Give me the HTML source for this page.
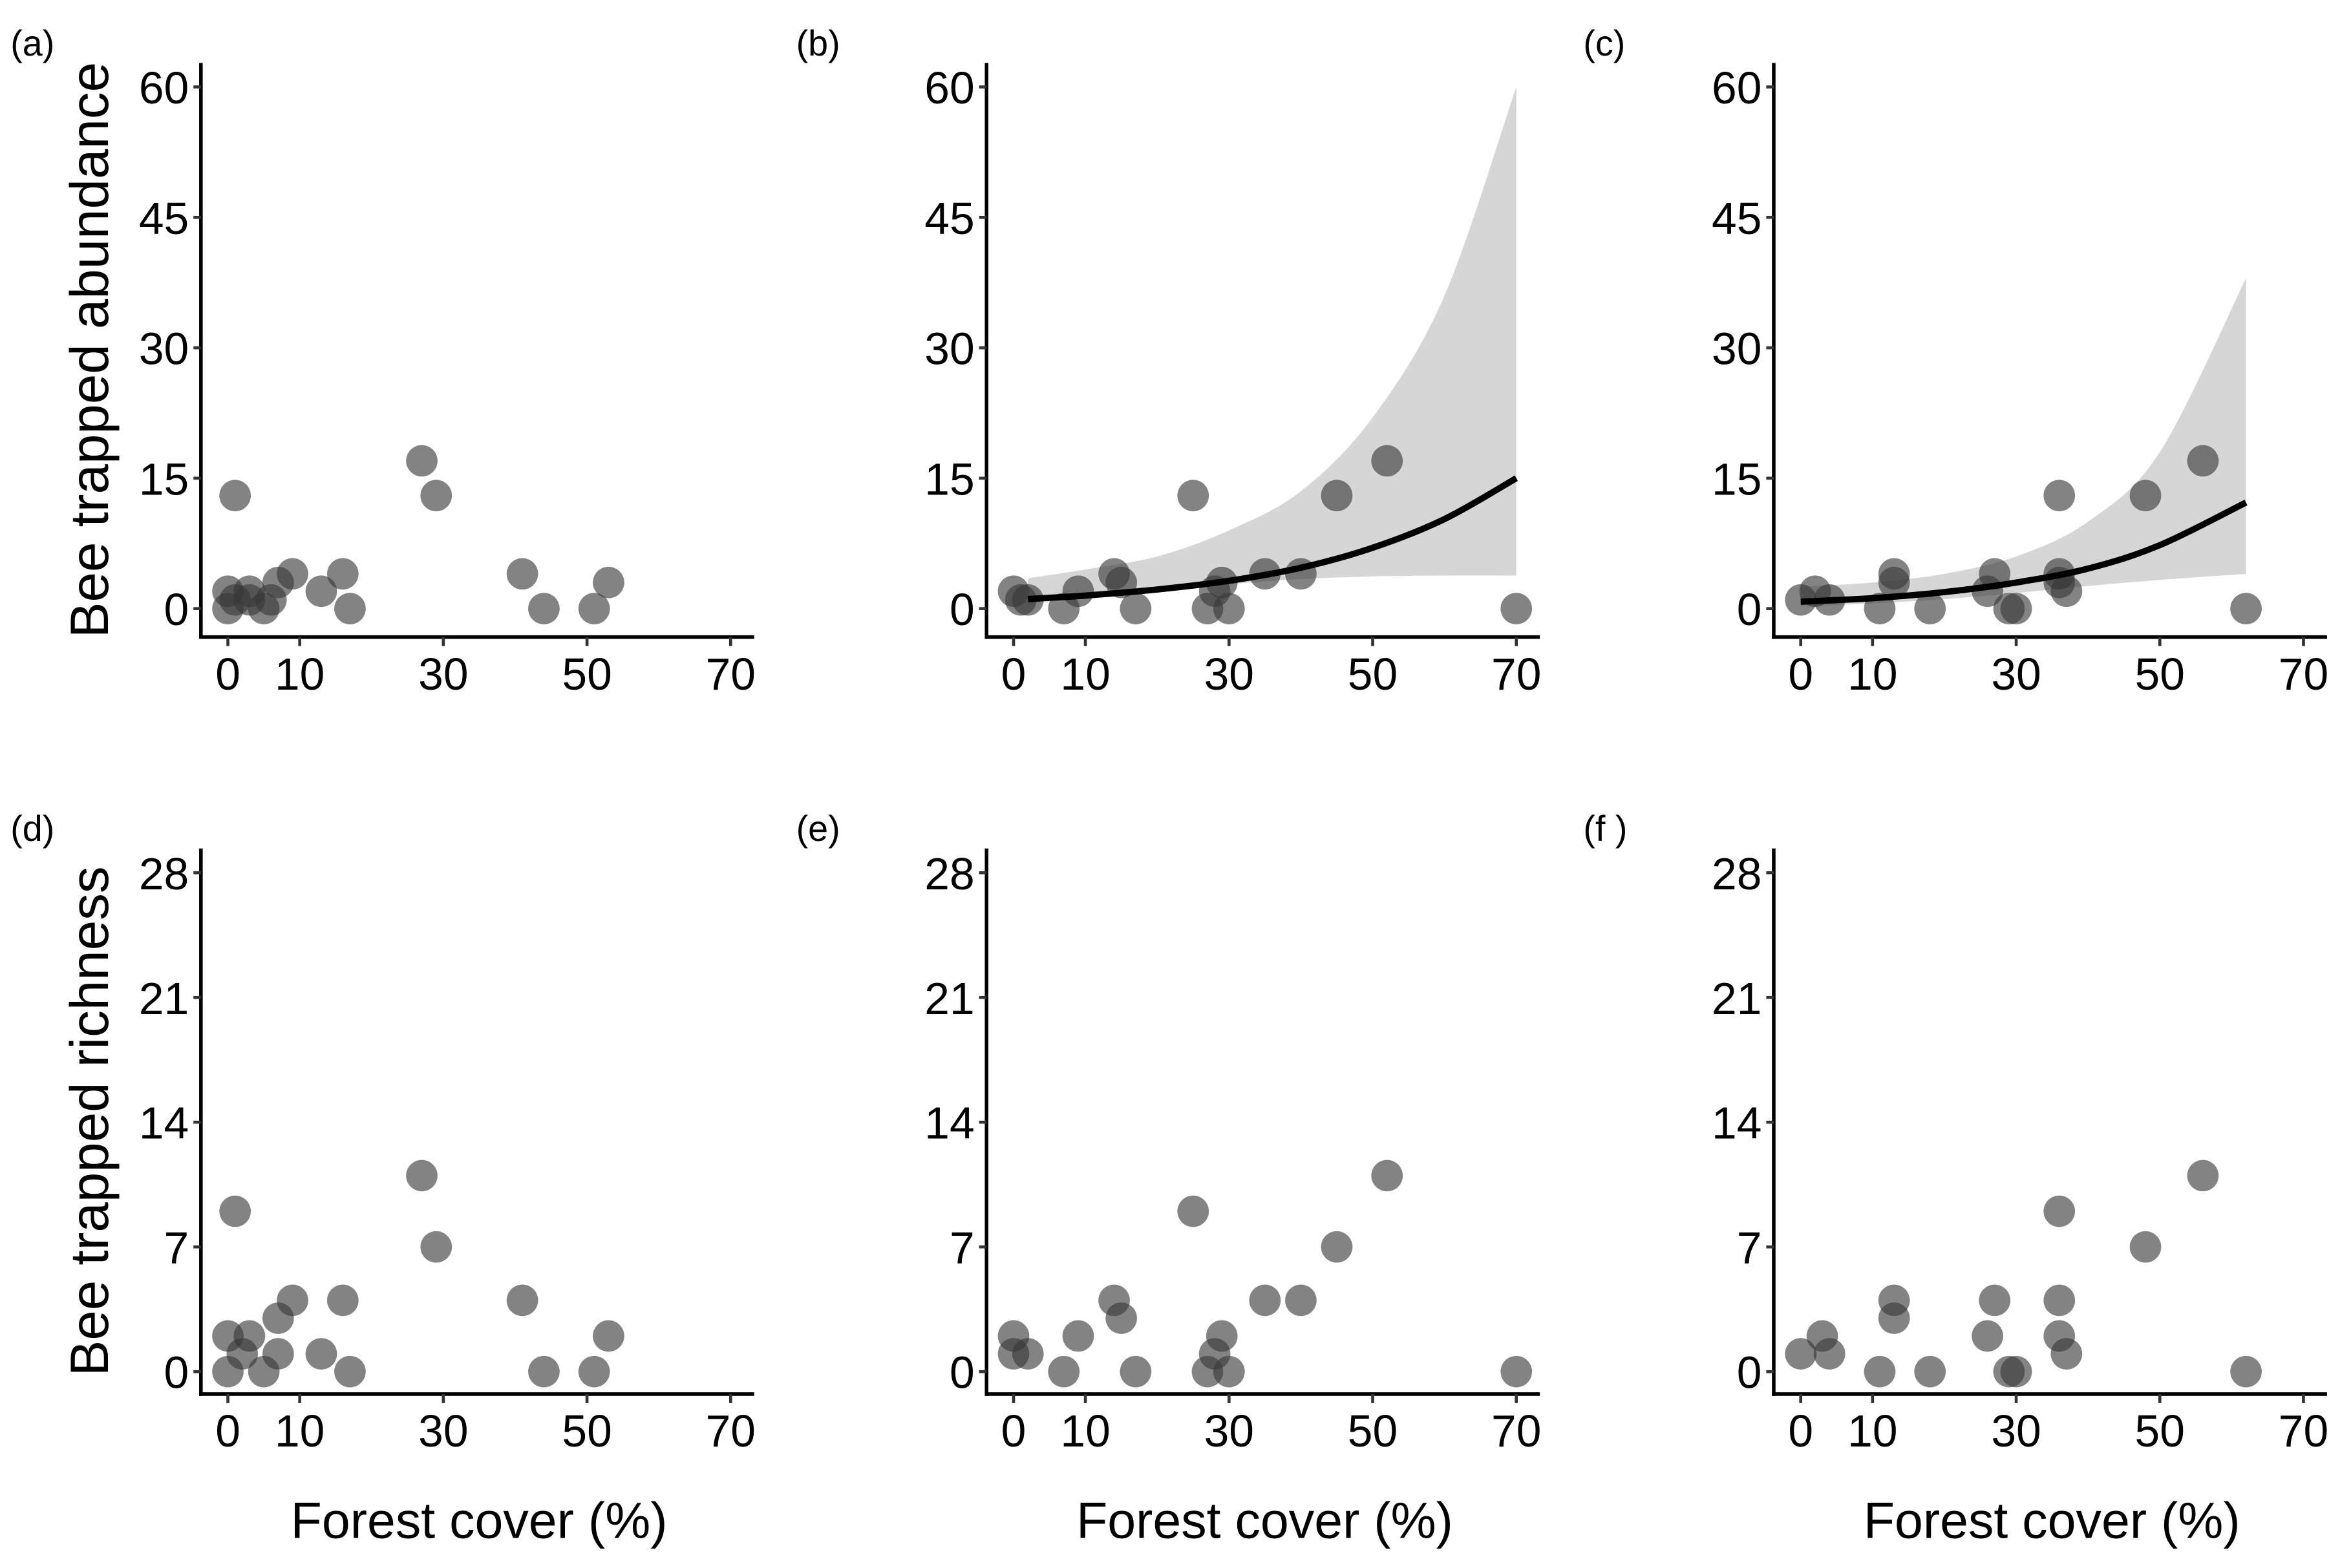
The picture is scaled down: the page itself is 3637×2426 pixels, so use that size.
<!DOCTYPE html>
<html><head><meta charset="utf-8"><style>
html,body{margin:0;padding:0;background:#fff;}
svg{display:block;font-family:"Liberation Sans",Arial,sans-serif;}
</style></head><body>
<svg id="fig" width="3637" height="2426" viewBox="0 0 1568 1046" preserveAspectRatio="none" xmlns="http://www.w3.org/2000/svg"></svg>
<script>
// ---- data ----
const absX_a = [0,0,1,1,3,3,5,6,7,9,13,16,17,27,29,41,44,51,53];
const absY_a = [2,0,13,1,1,2,0,1,3,4,2,4,0,17,13,4,0,0,3];
const absX_b = [0,1,2,7,9,14,15,17,25,27,28,29,30,35,40,45,52,70];
const absY_b = [2,1,1,0,2,4,3,0,13,0,2,3,0,4,4,13,17,0];
const absX_c = [0,2,4,11,13,13,18,26,27,29,30,36,36,36,37,48,56,62];
const absY_c = [1,2,1,0,4,3,0,2,4,0,0,13,4,3,2,13,17,0];
const richX_d = [0,0,1,2,3,5,7,7,9,13,16,17,27,29,41,44,51,53];
const richY_d = [2,0,9,1,2,0,1,3,4,1,4,0,11,7,4,0,0,2];
const richX_e = [0,0,2,7,9,14,15,17,25,27,28,29,30,35,40,45,52,70];
const richY_e = [2,1,1,0,2,4,3,0,9,0,1,2,0,4,4,7,11,0];
const richX_f = [0,3,4,11,13,13,18,26,27,29,30,36,36,36,37,48,56,62];
const richY_f = [1,2,1,0,4,3,0,2,4,0,0,9,4,2,1,7,11,0];
// fitted curves
const fitX_b = [2,10,20,30,40,50,60,70];
const fitY_b = [1.1,1.5,2.2,3.2,4.7,7,10.3,15];
const upY_b = [3.5,4.5,6,9,13.5,22,36,60];
const loY_b = [0.6,1.2,2,2.8,3.4,3.7,3.8,3.8];
const fitX_c = [0,10,20,30,40,50,62];
const fitY_c = [0.8,1.2,1.9,3,4.6,7.3,12.2];
const upY_c = [2.5,3,4,6,10,18,38];
const loY_c = [0.3,0.6,1.1,1.8,2.6,3.3,4];
const xTicks = [0,10,30,50,70];
const yTicksAbs = [0,15,30,45,60];
const yTicksRich = [0,7,14,21,28];

const NS="http://www.w3.org/2000/svg";
const svg=document.getElementById('fig');
function mk(tag,attrs,parent){const e=document.createElementNS(NS,tag);for(const k in attrs)e.setAttribute(k,attrs[k]);(parent||svg).appendChild(e);return e;}

function smooth(pts){
  let d=`M${pts[0][0]},${pts[0][1]}`;
  for(let i=0;i<pts.length-1;i++){
    const p0=pts[Math.max(i-1,0)],p1=pts[i],p2=pts[i+1],p3=pts[Math.min(i+2,pts.length-1)];
    const c1=[p1[0]+(p2[0]-p0[0])/6,p1[1]+(p2[1]-p0[1])/6];
    const c2=[p2[0]-(p3[0]-p1[0])/6,p2[1]-(p3[1]-p1[1])/6];
    d+=` C${c1[0]},${c1[1]} ${c2[0]},${c2[1]} ${p2[0]},${p2[1]}`;
  }
  return d;
}

function panel(opt){
  const g=mk('g',{});
  
  
  const ax=opt.ax, top=opt.top, bot=opt.bot, right=ax+369;
  const x0=ax+18, xs=4.79;
  const X=v=>x0+v*xs;
  const Y=v=>opt.y0-v*opt.ys;
  if(opt.fitX){
    const up=opt.fitX.map((x,i)=>[X(x),Y(opt.up[i])]);
    const lo=opt.fitX.map((x,i)=>[X(x),Y(opt.lo[i])]).reverse();
    let d=smooth(up);
    d+=` L${lo[0][0]},${lo[0][1]}`+smooth(lo).replace(/^M[^C]*/,' ')+' Z';
    const band=mk('path',{d:d,fill:'#d6d6d6',stroke:'none'},g);
    
    
  }
  opt.xs.forEach((x,i)=>{
    const c=mk('circle',{cx:X(x),cy:Y(opt.ys_[i]),r:10.5,fill:'rgba(55,55,55,0.62)'},g);
    
    
  });
  if(opt.fitX){
    const pts=opt.fitX.map((x,i)=>[X(x),Y(opt.fit[i])]);
    const l=mk('path',{d:smooth(pts),fill:'none',stroke:'#000','stroke-width':4.2},g);
    
    
  }
  const ya=mk('line',{x1:ax,y1:top,x2:ax,y2:bot+1.2,stroke:'#000','stroke-width':2.4},g);
  
  
  const xa=mk('line',{x1:ax-1.2,y1:bot,x2:right,y2:bot,stroke:'#000','stroke-width':2.4},g);
  
  
  opt.yt.forEach(v=>{
    mk('line',{x1:ax-5,y1:Y(v),x2:ax,y2:Y(v),stroke:'#333','stroke-width':2},g);
    const t=mk('text',{x:ax-8,y:Y(v)+11,'text-anchor':'end','font-size':30,fill:'#000'},g);
    t.textContent=v;
    
    
  });
  xTicks.forEach(v=>{
    mk('line',{x1:X(v),y1:bot,x2:X(v),y2:bot+6,stroke:'#333','stroke-width':2},g);
    const t=mk('text',{x:X(v),y:bot+35,'text-anchor':'middle','font-size':30,fill:'#000'},g);
    t.textContent=v;
    
    
  });
  const lab=mk('text',{x:opt.lx,y:opt.ly,'font-size':24,fill:'#000'},g);
  lab.textContent=opt.label;
  
  
  if(opt.ytitle){
    const cy=(top+bot)/2;
    const t=mk('text',{x:0,y:0,'text-anchor':'middle','font-size':36,fill:'#000',transform:`translate(72,${cy}) rotate(-90)`},g);
    t.textContent=opt.ytitle;
    
    
  }
  if(opt.xtitle){
    const t=mk('text',{x:(ax+right)/2+1,y:1026,'text-anchor':'middle','font-size':34,fill:'#000'},g);
    t.textContent='Forest cover (%)';
    
    
  }
}
const AX=[134,658,1183];
const r1={top:42,bot:425,y0:406,ys:87/15,yt:yTicksAbs};
const r2={top:566,bot:930,y0:915,ys:83.2/7,yt:yTicksRich};
panel(Object.assign({id:'a',ax:AX[0],xs:absX_a,ys_:absY_a,label:'(a)',lx:7,ly:37,ytitle:'Bee trapped abundance'},r1));
panel(Object.assign({id:'b',ax:AX[1],xs:absX_b,ys_:absY_b,label:'(b)',lx:531,ly:37,fitX:fitX_b,fit:fitY_b,up:upY_b,lo:loY_b},r1));
panel(Object.assign({id:'c',ax:AX[2],xs:absX_c,ys_:absY_c,label:'(c)',lx:1056,ly:37,fitX:fitX_c,fit:fitY_c,up:upY_c,lo:loY_c},r1));
panel(Object.assign({id:'d',ax:AX[0],xs:richX_d,ys_:richY_d,label:'(d)',lx:7,ly:561,ytitle:'Bee trapped richness',xtitle:true},r2));
panel(Object.assign({id:'e',ax:AX[1],xs:richX_e,ys_:richY_e,label:'(e)',lx:531,ly:561,xtitle:true},r2));
panel(Object.assign({id:'f',ax:AX[2],xs:richX_f,ys_:richY_f,label:'(f )',lx:1056,ly:561,xtitle:true},r2));
</script>
</body></html>
